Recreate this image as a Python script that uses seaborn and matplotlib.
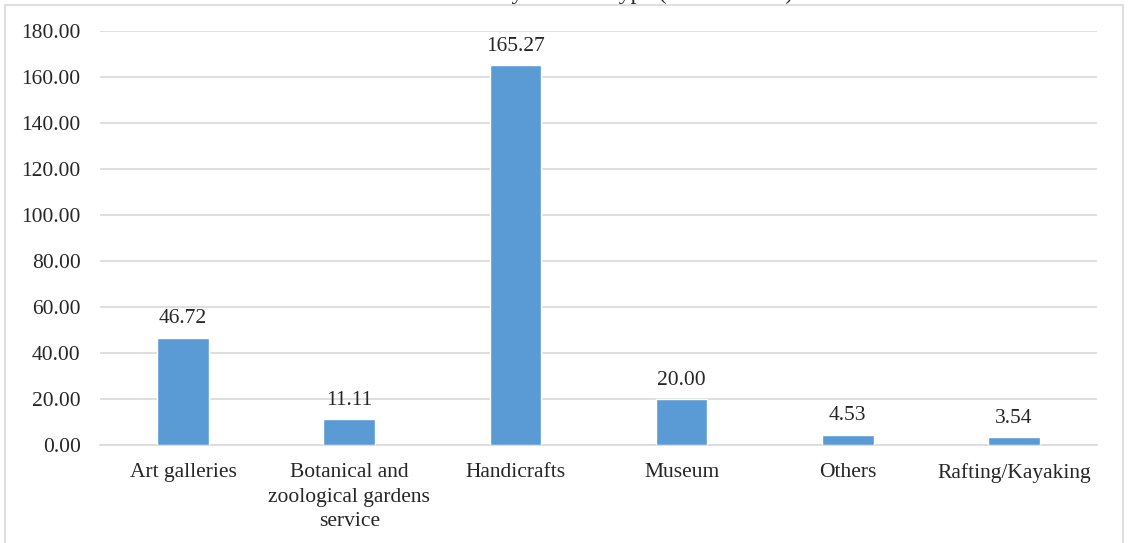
import seaborn as sns
import matplotlib.pyplot as plt
import pandas as pd
from matplotlib.patches import Rectangle

categories = ['Art galleries', 'Botanical and\nzoological gardens\nservice', 'Handicrafts',
              'Museum', 'Others', 'Rafting/Kayaking']
values = [46.72, 11.11, 165.27, 20.00, 4.53, 3.54]
yticks = [0, 20, 40, 60, 80, 100, 120, 140, 160, 180]

df = pd.DataFrame({'category': categories, 'value': values})

sns.set_theme(style='white')
plt.rcParams['font.family'] = ['Liberation Serif', 'DejaVu Serif']

W, H = 1128, 543
fig = plt.figure(figsize=(W / 100, H / 100), dpi=100)
ax = fig.add_axes([100 / W, (H - 445) / H, (1097 - 100) / W, (445 - 31) / H])

sns.barplot(data=df, x='category', y='value', color='#5B9BD5', width=0.31,
            saturation=1, ax=ax, zorder=3)

ax.set_ylim(0, 180)
ax.set_yticks(yticks)
ax.set_yticklabels(['{:.2f}'.format(v) for v in yticks], fontsize=15.5, color='#262626')
ax.tick_params(axis='x', labelsize=15.5, colors='#262626', length=0, pad=13)
ax.tick_params(axis='y', length=0, pad=14)
for lbl in ax.get_xticklabels():
    lbl.set_linespacing(1.4)
ax.yaxis.grid(True, color='#d9d9d9', linewidth=1.2, zorder=0)
ax.set_xlabel('')
ax.set_ylabel('')
for s in ['top', 'right', 'left']:
    ax.spines[s].set_visible(False)
ax.spines['bottom'].set_color('#d9d9d9')
ax.spines['bottom'].set_linewidth(1.2)

for i, v in enumerate(values):
    ax.text(i, v + 4, '{:.2f}'.format(v), ha='center', va='bottom', fontsize=15.5, color='#262626')

# chart area border
fig.patches.append(Rectangle((5 / W, -0.1), (1123 - 5) / W, 1.1 - 5 / H,
                             transform=fig.transFigure, fill=False,
                             edgecolor='#d9d9d9', linewidth=1.2))

# title, mostly clipped off the top of the image
fig.text(0.5 + 38 / W, 1 + 1 / H, 'Revenue by Service Type (in Rs. Lakhs)', ha='center',
         va='baseline', fontsize=17, color='#262626')

fig.savefig('out.png', dpi=100)
